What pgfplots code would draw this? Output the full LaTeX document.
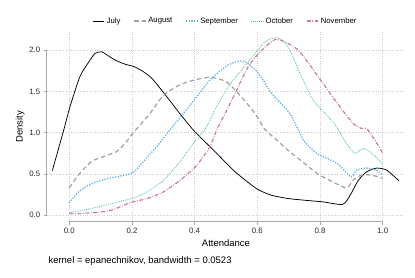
\documentclass[border=0pt]{standalone}
\usepackage{fontspec}
\setmainfont{Liberation Sans}
\usepackage{pgfplots}
\pgfplotsset{compat=1.18}
\definecolor{cgray}{HTML}{A0A0A0}
\definecolor{cblue}{HTML}{56B4E9}
\definecolor{cgreen}{HTML}{4CC49E}
\definecolor{cpink}{HTML}{CC79A7}
\definecolor{axgray}{HTML}{A8A8A8}
\begin{document}
\begin{tikzpicture}
\path[use as bounding box] (-46.7pt,-55.3pt) rectangle (368.3pt,221.7pt);
\begin{axis}[
  at={(0pt,0pt)}, anchor=south west, scale only axis,
  width=357.3pt, height=189.7pt,
  xmin=-0.072, xmax=1.068, ymin=-0.08, ymax=2.22,
  clip=false,
  axis line style={draw=none},
  xtick={0,0.2,0.4,0.6,0.8,1.0},
  xticklabels={0.0,0.2,0.4,0.6,0.8,1.0},
  ytick={0,0.5,1,1.5,2},
  yticklabels={0.0,0.5,1.0,1.5,2.0},
  xtick pos=bottom, ytick pos=left, tick align=outside,
  major tick length=3pt,
  tick style={axgray, line width=0.5pt},
  grid=major, grid style={dotted, gray!40, line width=0.45pt},
  ticklabel style={font=\fontsize{7.8}{9}\selectfont, text=black!85},
  legend columns=5,
  legend style={draw=none, fill=none, at={(0.5,1.058)}, anchor=center,
    font=\fontsize{7.7}{9}\selectfont,
    /tikz/every even column/.append style={column sep=11pt}},
  legend image code/.code={\draw[#1] (0pt,0pt) -- (11.7pt,0pt);},
]
\addplot[black, line width=0.75pt, smooth, tension=0.4] coordinates {
(-0.054,0.54) (-0.017,1.04) (0.002,1.31) (0.034,1.68) (0.061,1.85) (0.082,1.96) (0.103,1.98) (0.125,1.93) (0.146,1.88) (0.178,1.83) (0.207,1.80) (0.236,1.74) (0.263,1.66) (0.30,1.49) (0.353,1.23) (0.396,1.03) (0.43,0.90) (0.465,0.77) (0.529,0.525) (0.598,0.32) (0.646,0.24) (0.70,0.20) (0.752,0.18) (0.81,0.16) (0.872,0.13) (0.896,0.24) (0.922,0.42) (0.949,0.525) (0.981,0.57) (1.013,0.545) (1.052,0.415)};
\addlegendentry{July}
\addplot[cgray, line width=1.2pt, dash pattern=on 4.5pt off 3pt, smooth, tension=0.4] coordinates {
(0,0.33) (0.029,0.485) (0.071,0.65) (0.109,0.71) (0.151,0.77) (0.178,0.87) (0.207,1.01) (0.257,1.23) (0.30,1.45) (0.353,1.58) (0.406,1.645) (0.449,1.67) (0.479,1.65) (0.507,1.60) (0.55,1.43) (0.593,1.23) (0.624,1.04) (0.656,0.93) (0.70,0.78) (0.74,0.66) (0.789,0.51) (0.842,0.40) (0.885,0.33) (0.906,0.425) (0.933,0.485) (0.965,0.485) (1.0,0.445)};
\addlegendentry{August}
\addplot[cblue, line width=1.3pt, dash pattern=on 1.3pt off 1.4pt, smooth, tension=0.4] coordinates {
(0,0.15) (0.029,0.28) (0.071,0.38) (0.125,0.445) (0.178,0.485) (0.207,0.525) (0.236,0.646) (0.279,0.83) (0.316,1.01) (0.364,1.23) (0.406,1.43) (0.449,1.64) (0.479,1.74) (0.507,1.82) (0.542,1.87) (0.566,1.85) (0.603,1.72) (0.646,1.475) (0.704,1.23) (0.747,0.91) (0.789,0.75) (0.853,0.63) (0.899,0.465) (0.917,0.545) (0.949,0.57) (0.981,0.545) (1.0,0.485)};
\addlegendentry{September}
\addplot[cgreen, line width=0.9pt, dash pattern=on 0.8pt off 1.1pt, smooth, tension=0.4] coordinates {
(0,0.03) (0.071,0.08) (0.135,0.14) (0.207,0.21) (0.247,0.28) (0.30,0.42) (0.353,0.646) (0.396,0.87) (0.438,1.07) (0.465,1.28) (0.507,1.555) (0.55,1.76) (0.593,1.96) (0.624,2.10) (0.651,2.15) (0.672,2.14) (0.70,2.03) (0.736,1.72) (0.779,1.39) (0.82,1.22) (0.853,1.07) (0.879,0.90) (0.911,0.75) (0.938,0.81) (0.965,0.75) (1.0,0.62)};
\addlegendentry{October}
\addplot[cpink, line width=1.2pt, dash pattern=on 4pt off 1.6pt on 0.8pt off 1.6pt, smooth, tension=0.4] coordinates {
(0,0.02) (0.029,0.02) (0.082,0.03) (0.135,0.06) (0.194,0.15) (0.247,0.20) (0.30,0.28) (0.353,0.42) (0.406,0.60) (0.449,0.83) (0.47,1.03) (0.497,1.23) (0.529,1.475) (0.571,1.80) (0.614,2.0) (0.656,2.13) (0.688,2.10) (0.731,2.0) (0.779,1.76) (0.821,1.535) (0.864,1.31) (0.906,1.11) (0.933,1.05) (0.949,1.05) (0.975,0.91) (1.0,0.75)};
\addlegendentry{November}
\draw[axgray, line width=0.5pt] (axis cs:0,-0.08) -- (axis cs:1,-0.08);
\draw[axgray, line width=0.5pt] (axis cs:-0.072,0) -- (axis cs:-0.072,2);
\end{axis}
\node[anchor=base, inner sep=0pt, font=\fontsize{9.5}{11}\selectfont] at (179.3pt,-25pt) {Attendance};
\node[anchor=base, rotate=90, inner sep=0pt, font=\fontsize{9.5}{11}\selectfont] at (-24.2pt,94.8pt) {Density};
\node[anchor=base west, inner sep=0pt, font=\fontsize{9.5}{11}\selectfont] at (1.6pt,-41.3pt) {kernel = epanechnikov, bandwidth = 0.0523};
\end{tikzpicture}
\end{document}
